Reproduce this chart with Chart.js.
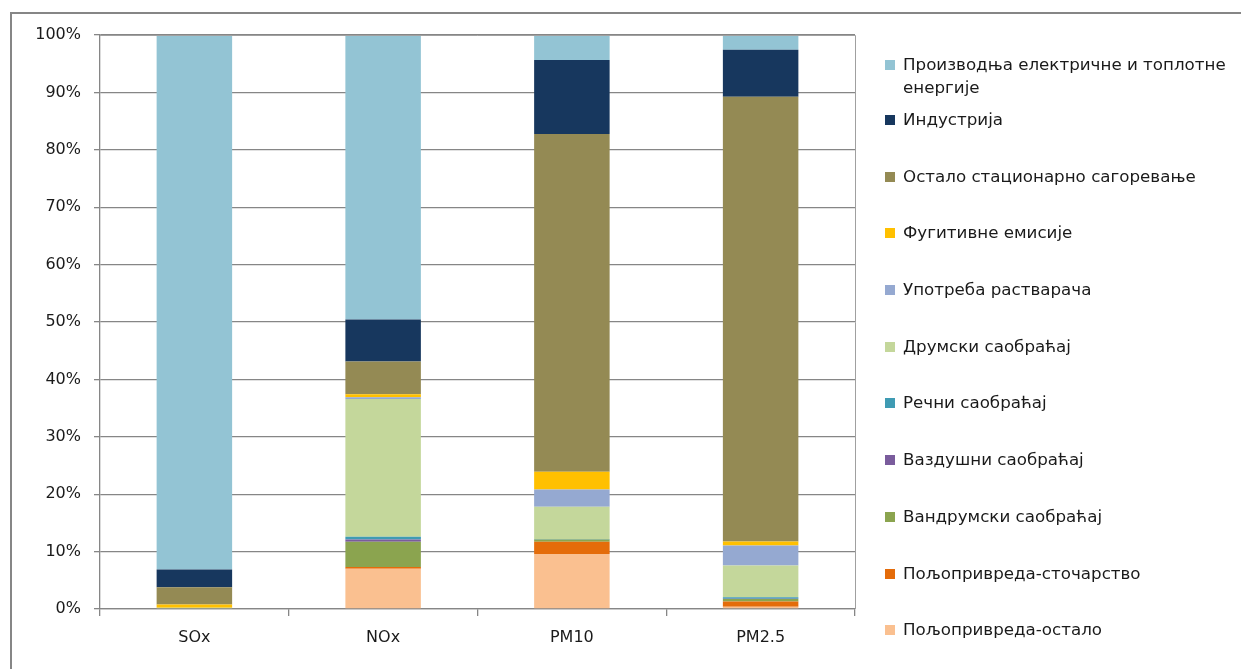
<!DOCTYPE html>
<html>
<head>
<meta charset="utf-8">
<script src="https://cdn.jsdelivr.net/npm/chart.js@4"></script>
<style>
  html, body { margin:0; padding:0; background:#fff; overflow:hidden; }
  #wrap { position:relative; width:1241px; height:669px; overflow:hidden; }
  #c { position:absolute; left:0; top:0; }
  #legend { position:absolute; left:885px; top:53px; width:350px;
            font-family:"DejaVu Sans", sans-serif; font-size:16.7px; color:#1a1a1a; }
  .item { position:relative; height:23px; line-height:23px; margin-bottom:33.7px; padding-left:18px; white-space:nowrap; }
  .item.first { height:46px; margin-bottom:9px; white-space:normal; width:332px; }
  .sw { position:absolute; left:0; top:7px; width:10px; height:10px; }
</style>
</head>
<body>
<div id="wrap">
  <canvas id="c" width="1241" height="669"></canvas>
  <div id="legend"></div>
</div>
<script>
const categories = ["SOx", "NOx", "PM10", "PM2.5"];
const seriesNames = [
  "Пољопривреда-остало",
  "Пољопривреда-сточарство",
  "Вандрумски саобраћај",
  "Ваздушни саобраћај",
  "Речни саобраћај",
  "Друмски саобраћај",
  "Употреба растварача",
  "Фугитивне емисије",
  "Остало стационарно сагоревање",
  "Индустрија",
  "Производња електричне и топлотне енергије"
];
const agriOther      = [0,    7.0,  9.6,   0.4];
const agriLivestock  = [0,    0.3,  2.1,   0.9];
const offRoad        = [0,    4.4,  0.4,   0.45];
const airTraffic     = [0,    0.4,  0,     0.05];
const riverTraffic   = [0,    0.5,  0.1,   0.25];
const roadTraffic    = [0.2,  24.0, 5.6,   5.55];
const solventUse     = [0,    0.3,  3.0,   3.45];
const fugitive       = [0.6,  0.5,  3.1,   0.7];
const otherStationary= [3.0,  5.7,  58.85, 77.5];
const industry       = [3.1,  7.35, 12.9,  8.2];
const energy         = [93.1, 49.55, 4.35, 2.55];
const yTicks = [0,10,20,30,40,50,60,70,80,90,100];

const seriesValues = [agriOther, agriLivestock, offRoad, airTraffic, riverTraffic,
  roadTraffic, solventUse, fugitive, otherStationary, industry, energy];
const colors = ["#fac090", "#e46c0a", "#8ba44f", "#7a5c9c", "#3f9bb3",
  "#c4d79b", "#95a9d1", "#ffc000", "#948a54", "#17375e", "#93c4d4"];

const datasets = seriesNames.map((n, i) => ({
  label: n, data: seriesValues[i], backgroundColor: colors[i],
  borderWidth: 0, categoryPercentage: 1.0, barPercentage: 0.4
}));

const frameAndBorder = {
  id: 'frameAndBorder',
  beforeDraw(chart) {
    const ctx = chart.ctx;
    ctx.save();
    ctx.fillStyle = '#868686';
    ctx.fillRect(10, 12, chart.width - 10, 2);
    ctx.fillRect(10, 12, 2, chart.height - 12);
    ctx.restore();
  },
  afterDraw(chart) {
    const {ctx, chartArea: a} = chart;
    ctx.save();
    ctx.strokeStyle = '#a0a0a0'; ctx.lineWidth = 1;
    ctx.beginPath();
    ctx.moveTo(a.left, a.top + 0.5); ctx.lineTo(Math.round(a.right) + 0.5, a.top + 0.5);
    ctx.lineTo(Math.round(a.right) + 0.5, a.bottom);
    ctx.stroke();
    ctx.restore();
  }
};

const htmlLegend = {
  id: 'htmlLegend',
  afterUpdate(chart) {
    const box = document.getElementById('legend');
    box.innerHTML = '';
    const items = chart.options.plugins.legend.labels.generateLabels(chart).slice().reverse();
    items.forEach((it, k) => {
      const d = document.createElement('div');
      d.className = 'item' + (k === 0 ? ' first' : '');
      const s = document.createElement('span');
      s.className = 'sw'; s.style.background = it.fillStyle;
      d.appendChild(s);
      d.appendChild(document.createTextNode(it.text));
      box.appendChild(d);
    });
  }
};

new Chart(document.getElementById('c'), {
  type: 'bar',
  data: { labels: categories, datasets },
  plugins: [frameAndBorder, htmlLegend],
  options: {
    responsive: false, animation: false,
    layout: { padding: { left: 0, right: 386, top: 35, bottom: 0 } },
    plugins: { legend: { display: false }, tooltip: { enabled: false } },
    scales: {
      x: {
        stacked: true,
        afterFit(s) { s.height = 60; },
        grid: { display: true, drawOnChartArea: false, offset: true, tickLength: 7,
                color: '#868686', lineWidth: 1.3 },
        border: { display: true, color: '#868686', width: 1.3 },
        ticks: { color: '#1a1a1a', padding: 12,
                 font: { family: 'DejaVu Sans', size: 16 } }
      },
      y: {
        stacked: true, min: 0, max: 100,
        afterFit(s) { s.width = 100; },
        afterBuildTicks(s) { s.ticks = yTicks.map(v => ({ value: v })); },
        grid: { color: '#868686', lineWidth: 1.3, tickLength: 6 },
        border: { display: true, color: '#868686', width: 1.3 },
        ticks: { color: '#1a1a1a', padding: 13,
                 font: { family: 'DejaVu Sans', size: 16 },
                 callback: v => v + '%' }
      }
    }
  }
});
</script>
</body>
</html>
